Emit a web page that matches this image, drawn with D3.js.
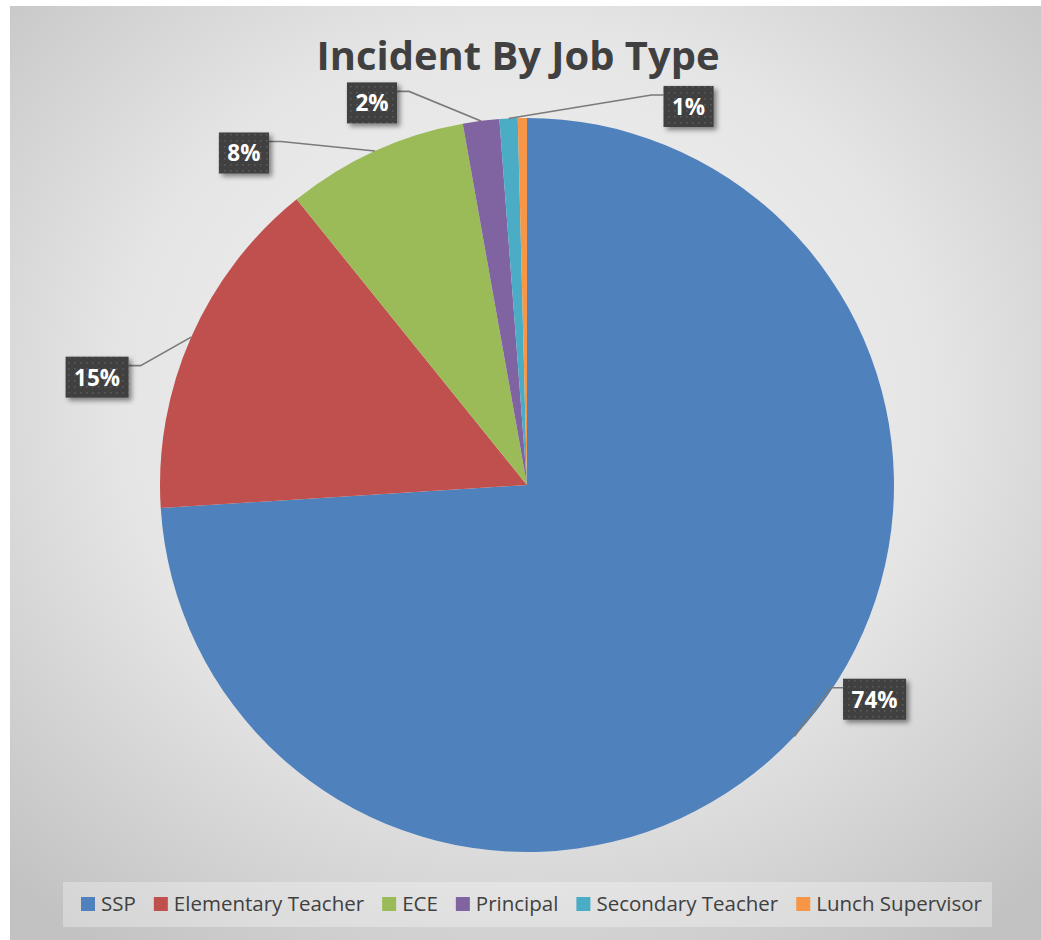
<!DOCTYPE html>
<html>
<head>
<meta charset="utf-8">
<script src="https://cdn.jsdelivr.net/npm/d3@7"></script>
<style>
  html, body { margin: 0; padding: 0; background: #fff; }
  svg { display: block; }
</style>
</head>
<body>
<svg id="chart" width="1041" height="940"></svg>
<script>
(function () {
    // data
    const categories = ["SSP", "Elementary Teacher", "ECE", "Principal", "Secondary Teacher", "Lunch Supervisor"];
    const counts     = [185, 38, 20, 4, 2, 1];
    const colors     = ["#4F81BD", "#C0504D", "#9BBB59", "#8064A2", "#4BACC6", "#F79646"];
    const showLabel  = [true, true, true, true, true, false];

    // label box placement, offset from the slice's edge point (layout only)
    const labelOffsets = [[80, -37], [-94, 40], [-131, 2], [-109, -18], [180, -12], [0, 0]];

    const W = 1041, H = 940;
    const CX = 527, CY = 485, R = 367;
    const FONT = "'Open Sans', 'Liberation Sans', sans-serif";

    const svg = d3.select("#chart");
    const defs = svg.append("defs");

    // background gradient
    const bg = defs.append("radialGradient").attr("id", "bgGrad")
        .attr("cx", "50%").attr("cy", "42%").attr("r", "72%");
    bg.append("stop").attr("offset", "0%").attr("stop-color", "#f4f4f4");
    bg.append("stop").attr("offset", "55%").attr("stop-color", "#e5e5e5");
    bg.append("stop").attr("offset", "100%").attr("stop-color", "#c2c2c2");

    // dotted pattern for label boxes
    const pat = defs.append("pattern").attr("id", "dots")
        .attr("width", 6).attr("height", 6).attr("patternUnits", "userSpaceOnUse");
    pat.append("rect").attr("width", 6).attr("height", 6).attr("fill", "#3f3f3f");
    pat.append("rect").attr("x", 2).attr("y", 2).attr("width", 1.6).attr("height", 1.6).attr("fill", "#5a5a5a");

    const shadow = defs.append("filter").attr("id", "shadow")
        .attr("x", "-30%").attr("y", "-30%").attr("width", "170%").attr("height", "170%");
    shadow.append("feDropShadow").attr("dx", 3).attr("dy", 3)
        .attr("stdDeviation", 2.5).attr("flood-color", "#000").attr("flood-opacity", 0.45);

    svg.append("rect")
        .attr("x", 10).attr("y", 6).attr("width", W - 10).attr("height", H - 6)
        .attr("fill", "url(#bgGrad)");

    // title
    const title = svg.append("text")
        .attr("x", 518).attr("y", 70)
        .attr("text-anchor", "middle")
        .attr("font-family", FONT).attr("font-weight", 700)
        .attr("font-size", 44).attr("fill", "#404040")
        .text("Incident By Job Type");
    const tw = title.node().getComputedTextLength();
    title.attr("font-size", 44 * 403 / tw);

    // pie
    const pie = d3.pie().sort(null).value(d => d)
        .startAngle(0).endAngle(2 * Math.PI);
    const arcs = pie(counts);
    const arc = d3.arc().innerRadius(0).outerRadius(R);
    const edge = d3.arc().innerRadius(R).outerRadius(R);

    const g = svg.append("g").attr("transform", `translate(${CX},${CY})`);
    g.selectAll("path.slice")
        .data(arcs)
        .join("path")
        .attr("class", "slice")
        .attr("d", arc)
        .attr("fill", (d, i) => colors[i]);

    // data labels
    const total = d3.sum(counts);
    const fmt = v => Math.round(v / total * 100) + "%";
    const labG = svg.append("g");

    arcs.forEach((d, i) => {
        if (!showLabel[i]) return;
        const [ax, ay] = edge.centroid(d);
        const px = CX + ax, py = CY + ay;
        const cx = px + labelOffsets[i][0], cy = py + labelOffsets[i][1];

        const item = labG.append("g");
        const t = item.append("text")
            .attr("x", cx).attr("y", cy + 8.5)
            .attr("text-anchor", "middle")
            .attr("font-family", FONT).attr("font-weight", 700)
            .attr("font-size", 22.5).attr("fill", "#ffffff")
            .text(fmt(d.value));
        const w = t.node().getComputedTextLength() + 17, h = 41;
        const bx = cx - w / 2, by = cy - h / 2;

        // leader line: from slice edge to elbow, then flat into the box
        const ly = by + 9;
        const right = px > cx;
        const boxEdge = right ? bx + w : bx;
        const elbow = right ? boxEdge + 12 : boxEdge - 12;
        labG.insert("path", ":first-child")
            .attr("d", d3.line()([[px, py], [elbow, ly], [boxEdge, ly]]))
            .attr("fill", "none").attr("stroke", "#7a7a7a").attr("stroke-width", 1.6);

        item.insert("rect", "text")
            .attr("x", bx).attr("y", by).attr("width", w).attr("height", h)
            .attr("fill", "url(#dots)")
            .attr("filter", "url(#shadow)");
    });

    // legend
    svg.append("rect")
        .attr("x", 63).attr("y", 882).attr("width", 929).attr("height", 45)
        .attr("fill", "#ffffff").attr("fill-opacity", 0.3);
    const legG = svg.append("g");
    const sq = 14, gapIn = 6, gapOut = 18;
    const legTexts = [];
    categories.forEach((c, i) => {
        const it = legG.append("g");
        it.append("rect").attr("x", 0).attr("y", 897).attr("width", sq).attr("height", sq)
            .attr("fill", colors[i]);
        const t = it.append("text")
            .attr("x", sq + gapIn).attr("y", 911)
            .attr("font-family", FONT).attr("font-size", 20).attr("fill", "#404040")
            .text(c);
        legTexts.push({ it, t });
    });
    // fit the legend row to the reference span (81 .. 982)
    const span = 982 - 81;
    const fixed = categories.length * (sq + gapIn) + (categories.length - 1) * gapOut;
    const txtW = d3.sum(legTexts, d => d.t.node().getComputedTextLength());
    const fs = 20 * (span - fixed) / txtW;
    let x = 81;
    legTexts.forEach(d => {
        d.t.attr("font-size", fs);
        d.it.attr("transform", `translate(${x},0)`);
        x += sq + gapIn + d.t.node().getComputedTextLength() + gapOut;
    });
})();
</script>
</body>
</html>
